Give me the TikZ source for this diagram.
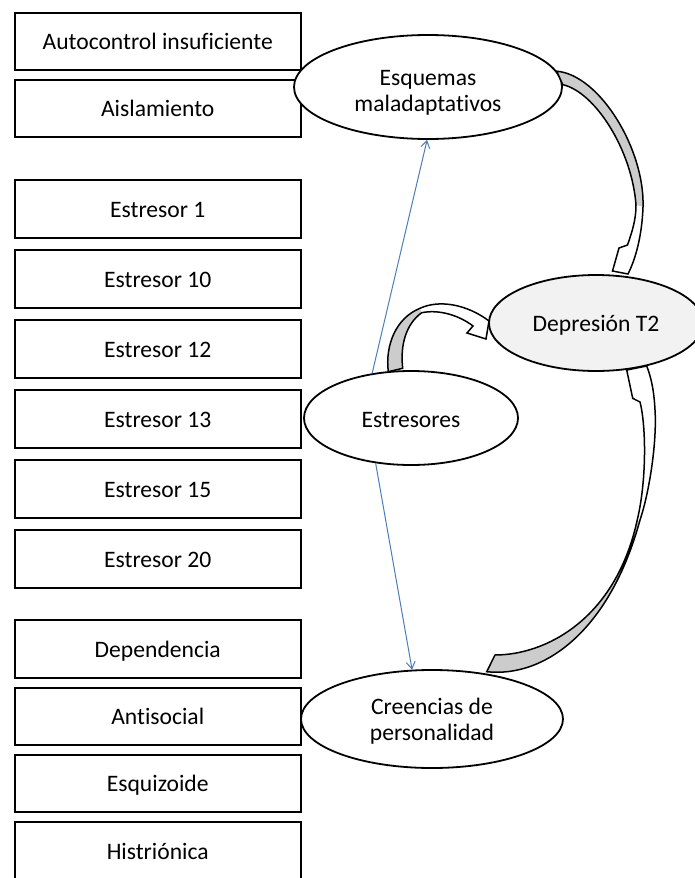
\documentclass[tikz,border=0pt]{standalone}
\usepackage{fontspec}
\setmainfont{Carlito}[Ligatures=NoCommon]
\usetikzlibrary{arrows.meta,shapes.geometric}
\definecolor{linkblue}{RGB}{74,126,187}
\definecolor{backface}{RGB}{204,204,204}
\definecolor{depfill}{RGB}{242,242,242}
\begin{document}
\begin{tikzpicture}[x=1pt,y=-1pt,
  every node/.style={font=\fontsize{23.6}{26}\selectfont},
  factor/.style={draw, line width=1.8pt, minimum width=285.7pt, minimum height=57.5pt,
    inner sep=0pt, text height=20pt, text depth=3.4pt},
  latent/.style={ellipse, draw, line width=1.8pt, fill=white, inner sep=0pt, align=center},
  effect/.style={linkblue, line width=1pt, -{Straight Barb[length=7pt,width=9pt]}},
  band/.style={draw, line width=1.5pt, line join=miter}
]
\useasboundingbox (0,0) rectangle (695,878);

% indicator boxes
\node[factor] (auto) at (157.75,41.5)  {Autocontrol insuficiente};
\node[factor] (aisl) at (157.75,108.5) {Aislamiento};
\node[factor] (e1)   at (157.75,209)   {Estresor 1};
\node[factor] (e10)  at (157.75,279)   {Estresor 10};
\node[factor] (e12)  at (157.75,349)   {Estresor 12};
\node[factor] (e13)  at (157.75,419)   {Estresor 13};
\node[factor] (e15)  at (157.75,489)   {Estresor 15};
\node[factor] (e20)  at (157.75,559)   {Estresor 20};
\node[factor] (dep)  at (157.75,649)   {Dependencia};
\node[factor] (anti) at (157.75,716.5) {Antisocial};
\node[factor] (esqz) at (157.75,783.5) {Esquizoide};
\node[factor] (hist) at (157.75,851)   {Histriónica};

% latent variables
\node[latent, minimum width=268pt, minimum height=104pt] (esq) at (428,87)
  {\rule{0pt}{27pt}Esquemas\\maladaptativos};
\node[latent, fill=depfill, minimum width=214pt, minimum height=96pt] (dt2) at (596,323)
  {\rule{0pt}{21pt}Depresión T2};
\node[latent, minimum width=214pt, minimum height=94pt] (est) at (411,418)
  {\rule{0pt}{19pt}Estresores};
\node[latent, minimum width=262pt, minimum height=98pt] (cre) at (432,719)
  {\rule{0pt}{21pt}Creencias de\\personalidad};

% thin paths
\draw[effect] (est.131.7) -- (esq.269);
\draw[effect] (est.232.1) -- (cre.112.2);

% curved block arrow: Esquemas -> Depresion
\fill[backface] (esq.7.7) .. controls (600,75) and (645,150) .. (643,207) -- (636,205)
  .. controls (632,150) and (595,92) .. (esq.1.3) -- cycle;
\fill[white] (643,207) .. controls (642,235) and (636,258) .. (628,274) -- (612.5,271)
  -- (619,248) -- (627.5,245) .. controls (632,232) and (636,220) .. (636,205) -- cycle;
\draw[band] (esq.1.3) .. controls (595,92) and (632,150) .. (636,205)
  .. controls (636,220) and (632,232) .. (627.5,245) -- (619,248) -- (612.5,271)
  -- (628,274) .. controls (636,258) and (642,235) .. (643,207)
  .. controls (645,150) and (600,75) .. (esq.7.7) -- cycle;

% curved block arrow: Estresores -> Depresion
\fill[backface] (388.3,371.7) .. controls (385,345) and (396,318) .. (420,308.3) -- (421.7,312.7)
  .. controls (406,324) and (400,345) .. (402.7,368.3) -- cycle;
\fill[white] (420,308.3) .. controls (440,299) and (468,305) .. (489,321) -- (486,339)
  -- (467,333) -- (473,326) .. controls (460,316) and (440,309) .. (421.7,312.7) -- cycle;
\draw[band] (402.7,368.3) .. controls (400,345) and (406,324) .. (421.7,312.7)
  .. controls (440,309) and (460,316) .. (473,326) -- (467,333) -- (486,339)
  -- (489,321) .. controls (468,305) and (440,299) .. (420,308.3)
  .. controls (396,318) and (385,345) .. (388.3,371.7) -- cycle;

% curved block arrow: Creencias -> Depresion
\fill[backface] (486.7,671.7) .. controls (545,678) and (610,630) .. (640,520) -- (637,521)
  .. controls (615,620) and (545,655) .. (495,655) -- cycle;
\fill[white] (640,520) .. controls (650,490) and (657,440) .. (655,410)
  .. controls (654,390) and (651,377) .. (646.7,366) -- (626.7,370) -- (632.7,398.3)
  -- (640,402) .. controls (646,425) and (647,480) .. (637,521) -- cycle;
\draw[band] (495,655) .. controls (545,655) and (615,620) .. (637,521)
  .. controls (647,480) and (646,425) .. (640,402) -- (632.7,398.3) -- (626.7,370)
  -- (646.7,366) .. controls (651,377) and (654,390) .. (655,410)
  .. controls (657,440) and (650,490) .. (640,520)
  .. controls (610,630) and (545,678) .. (486.7,671.7) -- cycle;
\end{tikzpicture}
\end{document}
